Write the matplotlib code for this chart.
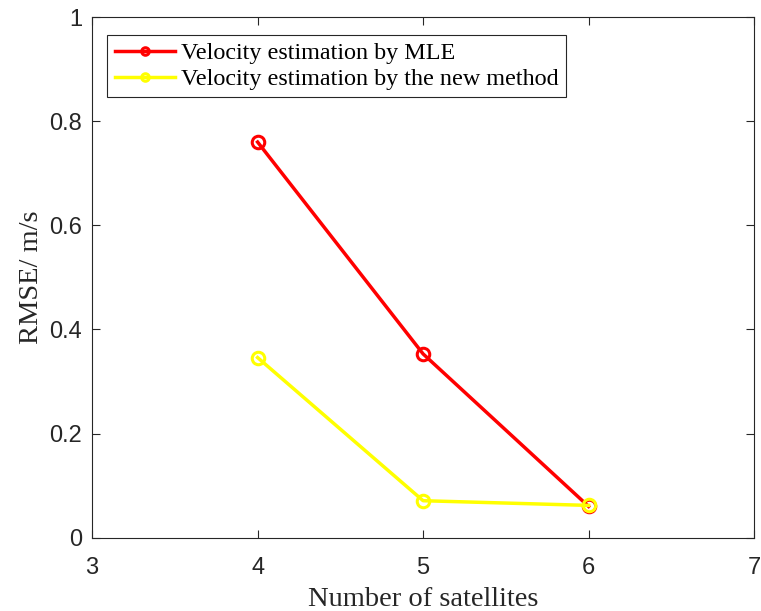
import matplotlib
matplotlib.use('Agg')
import matplotlib.pyplot as plt

# number of satellites vs. velocity RMSE
sats = [4, 5, 6]
rmse_mle = [0.760, 0.353, 0.060]
rmse_new = [0.346, 0.071, 0.062]

fig = plt.figure(figsize=(7.61, 6.11), dpi=100)
ax = fig.add_axes([0.121, 0.12, 0.870, 0.852])

ax.plot(sats, rmse_mle, color='#ff0000', lw=2.5, marker='o', ms=9,
        mfc='none', mew=2.2, label='Velocity estimation by MLE')
ax.plot(sats, rmse_new, color='#ffff00', lw=2.5, marker='o', ms=9,
        mfc='none', mew=2.2, label='Velocity estimation by the new method')

ax.set_xlim(3, 7)
ax.set_ylim(0, 1)
ax.set_xticks([3, 4, 5, 6, 7])
ax.set_yticks([0, 0.2, 0.4, 0.6, 0.8, 1])
ax.set_yticklabels(['0', '0.2', '0.4', '0.6', '0.8', '1'])

for s in ax.spines.values():
    s.set_color('#262626')
    s.set_linewidth(0.8)
ax.tick_params(direction='in', length=6, width=0.8, colors='#262626',
               labelsize=17, top=True, right=True, pad=7)
ax.tick_params(axis='x', pad=14)
for lab in ax.get_xticklabels() + ax.get_yticklabels():
    lab.set_family('Liberation Sans')

ax.set_xlabel('Number of satellites', family='Liberation Serif',
              fontsize=20.5, color='#262626', labelpad=6)
ax.set_ylabel('RMSE/ m/s', family='Liberation Serif',
              fontsize=20.5, color='#262626', labelpad=4)

leg = ax.legend(loc='upper left', bbox_to_anchor=(0.023, 0.965),
                prop={'family': 'Liberation Serif', 'size': 17.4},
                fancybox=False, framealpha=1, edgecolor='#262626',
                borderpad=0.3, labelspacing=0.15, handlelength=2.5,
                handletextpad=0.25, borderaxespad=0, markerscale=0.6)
leg.get_frame().set_linewidth(0.8)

fig.savefig('out.png', dpi=100)
